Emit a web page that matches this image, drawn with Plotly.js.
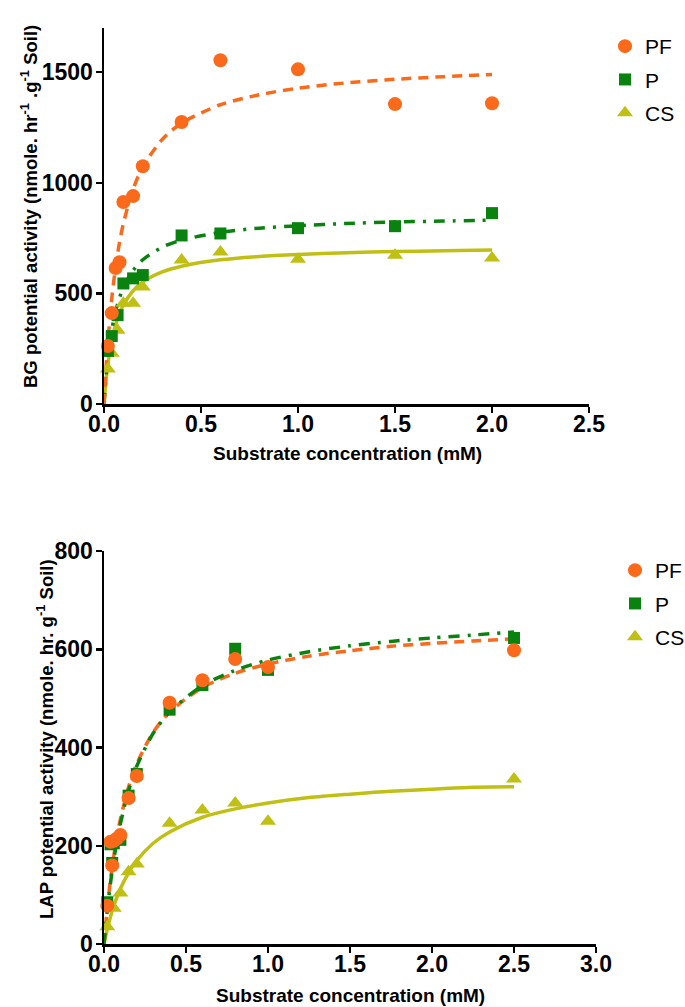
<!DOCTYPE html>
<html>
<head>
<meta charset="utf-8">
<script src="https://cdn.plot.ly/plotly-3.0.1.min.js"></script>
<style>html,body{margin:0;padding:0;background:#fff;}#chart{width:685px;height:1007px;}</style>
</head>
<body>
<div id="chart"></div>
<script>
// ---------- BG (top panel) measured points ----------
const bgPF_x = [0.02, 0.04, 0.06, 0.08, 0.1, 0.15, 0.2, 0.4, 0.6, 1.0, 1.5, 2.0];
const bgPF_y = [262, 411, 615, 641, 913, 940, 1075, 1275, 1554, 1513, 1356, 1360];
const bgP_x  = [0.02, 0.04, 0.07, 0.1, 0.15, 0.2, 0.4, 0.6, 1.0, 1.5, 2.0];
const bgP_y  = [240, 307, 402, 545, 568, 583, 762, 771, 795, 804, 863];
const bgCS_x = [0.02, 0.04, 0.07, 0.1, 0.15, 0.2, 0.4, 0.6, 1.0, 1.5, 2.0];
const bgCS_y = [158, 230, 334, 456, 456, 529, 651, 687, 655, 673, 660];

// ---------- BG fitted curves ----------
const bgFit_x    = [0, 0.01, 0.02, 0.04, 0.06, 0.08, 0.1, 0.15, 0.2, 0.3, 0.4, 0.6, 0.8, 1.0, 1.25, 1.5, 1.75, 2.0];
const bgFitPF_y  = [0, 155, 282, 477, 621, 731, 817, 971, 1072, 1196, 1270, 1353, 1398, 1428, 1452, 1468, 1480, 1490];
const bgFitP_y   = [0, 118, 207, 334, 419, 480, 527, 604, 652, 709, 741, 776, 795, 806, 816, 823, 827, 831];
const bgFitCS_y  = [0, 102, 179, 287, 358, 410, 448, 512, 552, 597, 623, 652, 667, 676, 684, 689, 693, 696];

// ---------- LAP (bottom panel) measured points ----------
const lapPF_x = [0.02, 0.04, 0.05, 0.06, 0.08, 0.1, 0.15, 0.2, 0.4, 0.6, 0.8, 1.0, 2.5];
const lapPF_y = [78, 208, 160, 210, 215, 222, 297, 342, 491, 537, 580, 564, 598];
const lapP_x  = [0.02, 0.04, 0.05, 0.06, 0.1, 0.15, 0.2, 0.4, 0.6, 0.8, 1.0, 2.5];
const lapP_y  = [85, 203, 165, 205, 212, 302, 346, 477, 527, 601, 558, 623];
const lapCS_x = [0.02, 0.06, 0.1, 0.15, 0.2, 0.4, 0.6, 0.8, 1.0, 2.5];
const lapCS_y = [35, 73, 104, 147, 163, 246, 273, 287, 250, 336];

// ---------- LAP fitted curves ----------
const lapFit_x   = [0, 0.02, 0.04, 0.06, 0.08, 0.1, 0.15, 0.2, 0.3, 0.4, 0.6, 0.8, 1.0, 1.25, 1.5, 1.75, 2.0, 2.25, 2.5];
const lapFitPF_y = [0, 73, 132, 180, 220, 254, 320, 367, 431, 472, 522, 551, 570, 586, 597, 606, 612, 617, 621];
const lapFitP_y  = [0, 69, 125, 172, 211, 245, 312, 362, 429, 472, 526, 557, 578, 595, 607, 616, 623, 629, 635];
const lapFitCS_y = [0, 30, 56, 78, 96, 113, 145, 170, 205, 228, 258, 275, 287, 298, 305, 311, 315, 319, 320];

// ---------- labels ----------
const seriesNames = ['PF', 'P', 'CS'];
const xTitle = 'Substrate concentration (mM)';
const bgYTitle = 'BG potential activity (nmole. hr<sup>-1</sup> .g<sup>-1</sup> Soil)';
const lapYTitle = 'LAP potential activity (nmole. hr. g<sup>-1</sup> Soil)';

// ---------- styles ----------
const W = 685, H = 1007;
const FONT = 'Liberation Sans, Arial, sans-serif';
const cOrange = '#FA6A1A', cGreen = '#0A820F', cYellow = '#BFBF14';
const symbols = ['circle', 'square', 'triangle-up'];
const colors = [cOrange, cGreen, cYellow];
const dashes = ['10px,7px', '11px,8px,3px,8px', 'solid'];
const msize = [14, 12, 14];

function fitTrace(x, y, i, xa, ya) {
  return {x: x, y: y, xaxis: xa, yaxis: ya, mode: 'lines', type: 'scatter',
    line: {color: colors[i], width: 3.5, dash: dashes[i], shape: 'spline', smoothing: 0.8},
    showlegend: false, hoverinfo: 'skip', cliponaxis: false};
}
function ptTrace(x, y, i, xa, ya, leg) {
  return {x: x, y: y, xaxis: xa, yaxis: ya, mode: 'markers', type: 'scatter',
    name: seriesNames[i], legend: leg, legendgroup: leg + seriesNames[i], legendrank: i + 1,
    marker: {symbol: symbols[i], color: colors[i], size: msize[i], line: {width: 0}},
    cliponaxis: false};
}

const data = [
  fitTrace(bgFit_x, bgFitCS_y, 2, 'x', 'y'),
  fitTrace(bgFit_x, bgFitP_y, 1, 'x', 'y'),
  fitTrace(bgFit_x, bgFitPF_y, 0, 'x', 'y'),
  ptTrace(bgCS_x, bgCS_y, 2, 'x', 'y', 'legend'),
  ptTrace(bgP_x, bgP_y, 1, 'x', 'y', 'legend'),
  ptTrace(bgPF_x, bgPF_y, 0, 'x', 'y', 'legend'),
  fitTrace(lapFit_x, lapFitCS_y, 2, 'x2', 'y2'),
  fitTrace(lapFit_x, lapFitPF_y, 0, 'x2', 'y2'),
  fitTrace(lapFit_x, lapFitP_y, 1, 'x2', 'y2'),
  ptTrace(lapCS_x, lapCS_y, 2, 'x2', 'y2', 'legend2'),
  ptTrace(lapP_x, lapP_y, 1, 'x2', 'y2', 'legend2'),
  ptTrace(lapPF_x, lapPF_y, 0, 'x2', 'y2', 'legend2')
];

const tickFont = {family: 'Liberation Sans', size: 23, color: '#000', weight: 'bold'};
function axisCommon() {
  return {showline: true, linecolor: '#000', linewidth: 2.5, ticks: 'outside', ticklen: 6,
    tickwidth: 2.5, tickcolor: '#000', showgrid: false, zeroline: false, tickfont: tickFont,
    automargin: false, fixedrange: true, tickprefix: '<b>', ticksuffix: '</b>'};
}
const px = v => v / W, py = v => 1 - v / H;

const layout = {
  width: W, height: H,
  margin: {l: 0, r: 0, t: 0, b: 0, autoexpand: false},
  paper_bgcolor: '#fff', plot_bgcolor: '#fff',
  font: {family: FONT, color: '#000'},
  xaxis: Object.assign(axisCommon(), {domain: [px(104), px(589)], range: [0, 2.5], dtick: 0.5, tick0: 0, tickformat: '.1f', anchor: 'y', ticklabelstandoff: -8}),
  yaxis: Object.assign(axisCommon(), {domain: [py(404), py(28)], range: [0, 1700], tickvals: [0, 500, 1000, 1500], tickformat: 'd', anchor: 'x', ticklabelstandoff: -2}),
  xaxis2: Object.assign(axisCommon(), {domain: [px(104), px(596)], range: [0, 3], dtick: 0.5, tick0: 0, tickformat: '.1f', anchor: 'y2', ticklabelstandoff: -8}),
  yaxis2: Object.assign(axisCommon(), {domain: [py(944), py(551)], range: [0, 800], dtick: 200, tick0: 0, tickformat: 'd', anchor: 'x2', ticklabelstandoff: -2}),
  legend: {x: px(605), y: py(26), xanchor: 'left', yanchor: 'top', bgcolor: 'rgba(0,0,0,0)',
    font: {family: FONT, size: 21, color: '#000'}, traceorder: 'grouped', tracegroupgap: 3, itemclick: false},
  legend2: {x: px(615), y: py(550), xanchor: 'left', yanchor: 'top', bgcolor: 'rgba(0,0,0,0)',
    font: {family: FONT, size: 21, color: '#000'}, traceorder: 'grouped', tracegroupgap: 3, itemclick: false},
  annotations: [
    {text: xTitle, xref: 'paper', yref: 'paper', x: px(348), y: py(453), xanchor: 'center', yanchor: 'middle', showarrow: false,
      font: {family: FONT, size: 19, weight: 700, color: '#000'}},
    {text: xTitle, xref: 'paper', yref: 'paper', x: px(350), y: py(995), xanchor: 'center', yanchor: 'middle', showarrow: false,
      font: {family: FONT, size: 19, weight: 700, color: '#000'}},
    {text: bgYTitle, xref: 'paper', yref: 'paper', x: px(29), y: py(207), xanchor: 'center', yanchor: 'middle', textangle: -90, showarrow: false,
      font: {family: FONT, size: 18.5, weight: 700, color: '#000'}},
    {text: lapYTitle, xref: 'paper', yref: 'paper', x: px(45), y: py(739), xanchor: 'center', yanchor: 'middle', textangle: -90, showarrow: false,
      font: {family: FONT, size: 18.5, weight: 700, color: '#000'}}
  ]
};

Plotly.newPlot('chart', data, layout, {displayModeBar: false, staticPlot: true});
</script>
</body>
</html>
